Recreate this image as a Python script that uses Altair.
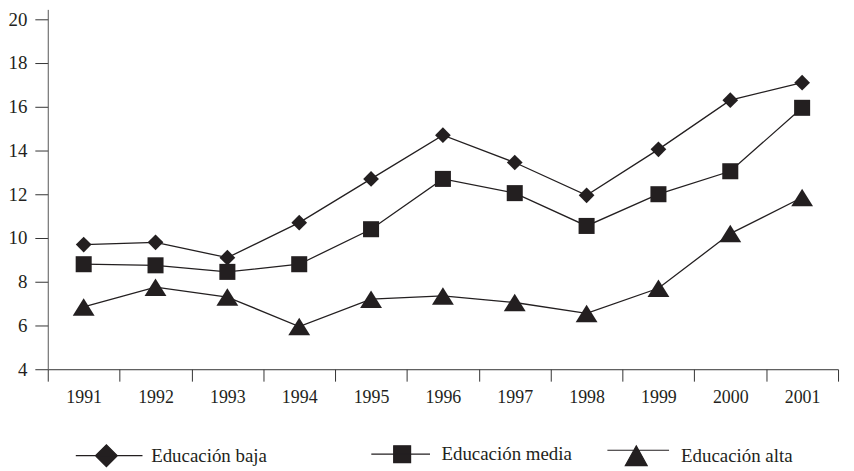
import altair as alt
import pandas as pd

# ---- data ----
years = [1991, 1992, 1993, 1994, 1995, 1996, 1997, 1998, 1999, 2000, 2001]
baja = [9.7, 9.8, 9.1, 10.7, 12.7, 14.7, 13.45, 11.95, 14.05, 16.3, 17.1]
media = [8.8, 8.75, 8.45, 8.8, 10.4, 12.7, 12.05, 10.55, 12.0, 13.05, 15.95]
alta = [6.85, 7.75, 7.3, 5.95, 7.2, 7.35, 7.05, 6.55, 7.7, 10.2, 11.85]
series_names = ["Educación baja", "Educación media", "Educación alta"]
y_ticks = [4, 6, 8, 10, 12, 14, 16, 18, 20]

INK = "#231f20"
FONT = "'Liberation Serif', 'Times New Roman', Times, 'DejaVu Serif', serif"

values = [baja, media, alta]
df = pd.DataFrame({
    "year": [yr for _ in series_names for yr in years],
    "value": [v for s in values for v in s],
    "serie": [n for n in series_names for _ in years],
})

x_enc = alt.X(
    "year:O",
    scale=alt.Scale(type="band", paddingInner=0, paddingOuter=0),
    bandPosition=0.5,
    axis=alt.Axis(
        title=None, tickBand="extent", tickSize=12, labelAngle=0, labelPadding=7,
        labelFont=FONT, labelFontSize=18, labelColor=INK,
        domainColor="#333333", tickColor="#333333", domainWidth=1, tickWidth=1, grid=False,
    ),
)
y_enc = alt.Y(
    "value:Q",
    scale=alt.Scale(domain=[4, 20.45], nice=False, zero=False),
    axis=alt.Axis(
        title=None, values=y_ticks, tickSize=13, labelPadding=8,
        labelFont=FONT, labelFontSize=19, labelColor=INK,
        domainColor="#555555", tickColor="#333333", domainWidth=1, tickWidth=1, grid=False,
    ),
)

markers = [
    dict(shape="diamond", size=250,
         legend_path="M-2.8,0H3.3M-1,0L0,-1L1,0L0,1Z", legend_size=484,
         labelOffset=33, legendX=47, legendY=437),
    dict(shape="square", size=260,
         legend_path="M-3.65,0H3.3M-1,-1H1V1H-1Z", legend_size=289,
         labelOffset=30, legendX=347, legendY=438),
    dict(shape="M0,-0.8L1,0.8L-1,0.8Z", size=484,
         legend_path="M-2.64,-0.5H3M0,-0.9L1,0.9L-1,0.9Z", legend_size=484,
         labelOffset=33, legendX=580, legendY=437),
]

base = alt.Chart(df)

line_layers = []
point_layers = []
for name, m in zip(series_names, markers):
    sub = base.transform_filter(alt.datum.serie == name)
    line_layers.append(
        sub.mark_line(color=INK, strokeWidth=1.3).encode(x=x_enc, y=y_enc)
    )
    point_layers.append(
        sub.mark_point(shape=m["shape"], size=m["size"], filled=True, opacity=1).encode(
            x=x_enc,
            y=y_enc,
            color=alt.Color(
                "serie:N",
                scale=alt.Scale(domain=[name], range=[INK]),
                legend=alt.Legend(
                    title=None, orient="none", legendX=m["legendX"], legendY=m["legendY"],
                    symbolType=m["legend_path"], symbolSize=m["legend_size"],
                    symbolStrokeColor=INK, symbolStrokeWidth=1.2, symbolOpacity=1,
                    labelOffset=m["labelOffset"], labelFont=FONT, labelFontSize=19,
                    labelColor=INK, labelLimit=300, padding=0,
                ),
            ),
        )
    )

chart = alt.layer(*line_layers, *point_layers).resolve_scale(color="independent").properties(
    width=795,
    height=362,
    autosize=alt.AutoSizeParams(type="none"),
    padding={"left": 40, "top": 0, "right": 8, "bottom": 100},
    background="white",
).configure_view(stroke=None)

chart.save("out.html", embed_options={"renderer": "svg", "actions": False})
